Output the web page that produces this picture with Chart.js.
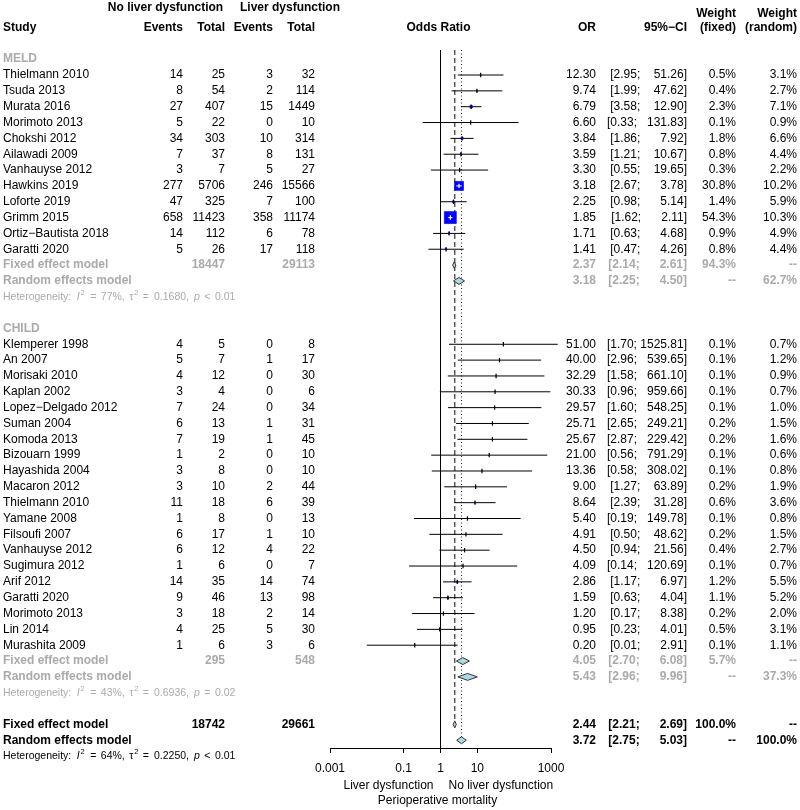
<!DOCTYPE html>
<html><head><meta charset="utf-8">
<script src="https://cdn.jsdelivr.net/npm/chart.js@4/dist/chart.umd.min.js"></script>
<style>html,body{margin:0;padding:0;background:#fff;}canvas{display:block;}</style>
</head><body>
<canvas id="c" width="800" height="810"></canvas>
<script>
// ---------------- DATA ----------------
const tickValues = [0.001, 0.1, 1, 10, 1000];
const tickLabels = ['0.001', '0.1', '1', '10', '1000'];

const meldStudies = ['Thielmann 2010','Tsuda 2013','Murata 2016','Morimoto 2013','Chokshi 2012','Ailawadi 2009','Vanhauyse 2012','Hawkins 2019','Loforte 2019','Grimm 2015','Ortiz\u2212Bautista 2018','Garatti 2020'];
const meldEventsNo = [14,8,27,5,34,7,3,277,47,658,14,5];
const meldTotalNo = [25,54,407,22,303,37,7,5706,325,11423,112,26];
const meldEventsLiver = [3,2,15,0,10,8,5,246,7,358,6,17];
const meldTotalLiver = [32,114,1449,10,314,131,27,15566,100,11174,78,118];
const meldOR = [12.30,9.74,6.79,6.60,3.84,3.59,3.30,3.18,2.25,1.85,1.71,1.41];
const meldLower = [2.95,1.99,3.58,0.33,1.86,1.21,0.55,2.67,0.98,1.62,0.63,0.47];
const meldUpper = [51.26,47.62,12.90,131.83,7.92,10.67,19.65,3.78,5.14,2.11,4.68,4.26];
const meldWeightFixed = [0.5,0.4,2.3,0.1,1.8,0.8,0.3,30.8,1.4,54.3,0.9,0.8];
const meldWeightRandom = [3.1,2.7,7.1,0.9,6.6,4.4,2.2,10.2,5.9,10.3,4.9,4.4];

const childStudies = ['Klemperer 1998','An 2007','Morisaki 2010','Kaplan 2002','Lopez\u2212Delgado 2012','Suman 2004','Komoda 2013','Bizouarn 1999','Hayashida 2004','Macaron 2012','Thielmann 2010','Yamane 2008','Filsoufi 2007','Vanhauyse 2012','Sugimura 2012','Arif 2012','Garatti 2020','Morimoto 2013','Lin 2014','Murashita 2009'];
const childEventsNo = [4,5,4,3,7,6,7,1,3,3,11,1,6,6,1,14,9,3,4,1];
const childTotalNo = [5,7,12,4,24,13,19,2,8,10,18,8,17,12,6,35,46,18,25,6];
const childEventsLiver = [0,1,0,0,0,1,1,0,0,2,6,0,1,4,0,14,13,2,5,3];
const childTotalLiver = [8,17,30,6,34,31,45,10,10,44,39,13,10,22,7,74,98,14,30,6];
const childOR = [51.00,40.00,32.29,30.33,29.57,25.71,25.67,21.00,13.36,9.00,8.64,5.40,4.91,4.50,4.09,2.86,1.59,1.20,0.95,0.20];
const childLower = [1.70,2.96,1.58,0.96,1.60,2.65,2.87,0.56,0.58,1.27,2.39,0.19,0.50,0.94,0.14,1.17,0.63,0.17,0.23,0.01];
const childUpper = [1525.81,539.65,661.10,959.66,548.25,249.21,229.42,791.29,308.02,63.89,31.28,149.78,48.62,21.56,120.69,6.97,4.04,8.38,4.01,2.91];
const childWeightFixed = [0.1,0.1,0.1,0.1,0.1,0.2,0.2,0.1,0.1,0.2,0.6,0.1,0.2,0.4,0.1,1.2,1.1,0.2,0.5,0.1];
const childWeightRandom = [0.7,1.2,0.9,0.7,1.0,1.5,1.6,0.6,0.8,1.9,3.6,0.8,1.5,2.7,0.7,5.5,5.2,2.0,3.1,1.1];

// summaries: [estimate, lower, upper]
const meldTotals = [18447, 29113];
const meldFixed = [2.37, 2.14, 2.61];
const meldRandom = [3.18, 2.25, 4.50];
const meldSummaryWeights = [94.3, 62.7];
const meldHet = ['77%', '0.1680', '<', '0.01'];

const childTotals = [295, 548];
const childFixed = [4.05, 2.70, 6.08];
const childRandom = [5.43, 2.96, 9.96];
const childSummaryWeights = [5.7, 37.3];
const childHet = ['43%', '0.6936', '=', '0.02'];

const overallTotals = [18742, 29661];
const overallFixed = [2.44, 2.21, 2.69];
const overallRandom = [3.72, 2.75, 5.03];
const overallSummaryWeights = [100.0, 100.0];
const overallHet = ['64%', '0.2250', '<', '0.01'];

// ---------------- LAYOUT ----------------
const FONT = '"Liberation Sans", Arial, Helvetica, sans-serif';
const GRAY = '#aaaaaa';
const Y_TOP = -0.58, Y_BOTTOM = 43.49;
const COL = {study: 3, ev1: 183, tot1: 225, ev2: 273, tot2: 315, or: 596, ci: 687, wf: 736, wr: 797};

function makeStudies(names, e1, t1, e2, t2, or, lo, hi, wf, wr, startRow) {
  return names.map((n, i) => ({name: n, e1: e1[i], t1: t1[i], e2: e2[i], t2: t2[i], or: or[i], lo: lo[i], hi: hi[i], wf: wf[i], wr: wr[i], row: startRow + i}));
}
const meldRows = makeStudies(meldStudies, meldEventsNo, meldTotalNo, meldEventsLiver, meldTotalLiver, meldOR, meldLower, meldUpper, meldWeightFixed, meldWeightRandom, 1);
const childRows = makeStudies(childStudies, childEventsNo, childTotalNo, childEventsLiver, childTotalLiver, childOR, childLower, childUpper, childWeightFixed, childWeightRandom, 18);
const allStudies = meldRows.concat(childRows);

const summaries = [
  {label: 'Fixed effect model', est: meldFixed, totals: meldTotals, wf: meldSummaryWeights[0], wr: null, row: 13, color: GRAY},
  {label: 'Random effects model', est: meldRandom, totals: null, wf: null, wr: meldSummaryWeights[1], row: 14, color: GRAY},
  {label: 'Fixed effect model', est: childFixed, totals: childTotals, wf: childSummaryWeights[0], wr: null, row: 38, color: GRAY},
  {label: 'Random effects model', est: childRandom, totals: null, wf: null, wr: childSummaryWeights[1], row: 39, color: GRAY},
  {label: 'Fixed effect model', est: overallFixed, totals: overallTotals, wf: overallSummaryWeights[0], wr: null, row: 42, color: '#000'},
  {label: 'Random effects model', est: overallRandom, totals: null, wf: null, wr: overallSummaryWeights[1], row: 43, color: '#000'}
];
const hetRows = [
  {vals: meldHet, row: 15, color: GRAY},
  {vals: childHet, row: 40, color: GRAY},
  {vals: overallHet, row: 44, color: '#000'}
];

function squareSide(w) { return 1.63 * Math.sqrt(w); }
function fmtCI(lo, hi) {
  const h = hi.toFixed(2);
  const pad = ' '.repeat(1 + Math.round(1.5 * Math.max(0, 7 - h.length)));
  return '[' + lo.toFixed(2) + ';' + pad + h + ']';
}
function diamond(e, row) {
  const h = 0.22;
  return [{x: e[1], y: row}, {x: e[0], y: row - h}, {x: e[2], y: row}, {x: e[0], y: row + h}, {x: e[1], y: row}];
}

// ---------------- DATASETS ----------------
const datasets = [];
const lineBase = {type: 'line', pointRadius: 0, borderWidth: 1, fill: false, clip: false, tension: 0};
datasets.push(Object.assign({}, lineBase, {data: [{x: 1, y: Y_TOP}, {x: 1, y: Y_BOTTOM}], borderColor: '#000', order: 30}));
datasets.push(Object.assign({}, lineBase, {data: [{x: overallFixed[0], y: Y_TOP}, {x: overallFixed[0], y: 42}], borderColor: '#444', borderDash: [5, 3], borderWidth: 1.3, order: 29}));
datasets.push(Object.assign({}, lineBase, {data: [{x: overallRandom[0], y: Y_TOP}, {x: overallRandom[0], y: 43}], borderColor: '#222', borderDash: [1, 2.5], order: 28}));
allStudies.forEach(s => {
  datasets.push(Object.assign({}, lineBase, {data: [{x: s.lo, y: s.row}, {x: s.hi, y: s.row}], borderColor: '#000', order: 20}));
});
datasets.push({type: 'scatter', data: allStudies.map(s => ({x: s.or, y: s.row})), pointStyle: 'rect', clip: false,
  pointRadius: ctx => squareSide(allStudies[ctx.dataIndex].wf) / Math.SQRT2,
  backgroundColor: '#0000ff', borderColor: '#0000cc', borderWidth: 0.6, order: 10});
datasets.push({type: 'scatter', data: allStudies.map(s => ({x: s.or, y: s.row})), pointStyle: 'line', clip: false,
  pointRadius: ctx => {
    const s = allStudies[ctx.dataIndex];
    const side = squareSide(s.wf);
    const xs = ctx.chart.scales.x;
    if (!xs || side <= 6) return 0;
    const half = (xs.getPixelForValue(s.hi) - xs.getPixelForValue(s.lo)) / 2;
    return Math.min(half, side / 2);
  },
  borderColor: '#ffffff', borderWidth: 1, order: 8});
datasets.push({type: 'scatter', data: allStudies.map(s => ({x: s.or, y: s.row})), pointStyle: 'line', rotation: 90, clip: false,
  pointRadius: 2.2,
  borderColor: ctx => squareSide(allStudies[ctx.dataIndex].wf) > 6 ? '#ffffff' : '#000000',
  borderWidth: 1.2, order: 6});
summaries.forEach(s => {
  datasets.push(Object.assign({}, lineBase, {data: diamond(s.est, s.row), fill: 'shape', backgroundColor: '#add8e6', borderColor: '#333', borderWidth: 1, order: 4}));
});

// ---------------- TEXT PLUGIN ----------------
function txt(ctx, s, x, y, align, o) {
  o = o || {};
  ctx.font = (o.italic ? 'italic ' : '') + (o.bold ? 'bold ' : '') + (o.size || 12) + 'px ' + FONT;
  ctx.fillStyle = o.color || '#000';
  ctx.textAlign = align;
  ctx.textBaseline = 'middle';
  ctx.fillText(s, x, y);
}
function drawHet(ctx, x, y, vals, color) {
  // [text, kind, gap before (px)]
  const segs = [
    ['Heterogeneity:', 'n', 0], ['I', 'i', 5.5], ['2', 's', 0.8], ['=', 'n', 5.5], [vals[0] + ',', 'n', 4.5],
    ['\u03c4', 'n', 4.5], ['2', 's', 0.8], ['=', 'n', 4.5], [vals[1] + ',', 'n', 5],
    ['p', 'i', 5], [vals[2], 'n', 4.5], [vals[3], 'n', 4.5]
  ];
  let cx = x;
  segs.forEach(([s, k, gap]) => {
    const size = k === 's' ? 7.5 : 10.5;
    ctx.font = (k === 'i' ? 'italic ' : '') + size + 'px ' + FONT;
    ctx.fillStyle = color; ctx.textAlign = 'left'; ctx.textBaseline = 'middle';
    cx += gap;
    ctx.fillText(s, cx, k === 's' ? y - 4 : y);
    cx += ctx.measureText(s).width;
  });
}
const textPlugin = {
  id: 'forestText',
  afterDraw(chart) {
    const ctx = chart.ctx;
    const ys = chart.scales.y, xs = chart.scales.x;
    const Y = r => ys.getPixelForValue(r);
    ctx.save();
    // header
    txt(ctx, 'No liver dysfunction', 165.5, Y(-3.28), 'center', {bold: true});
    txt(ctx, 'Liver dysfunction', 290, Y(-3.28), 'center', {bold: true});
    txt(ctx, 'Weight', COL.wf, Y(-2.9), 'right', {bold: true});
    txt(ctx, 'Weight', COL.wr, Y(-2.9), 'right', {bold: true});
    const h2 = Y(-2.02);
    txt(ctx, 'Study', COL.study, h2, 'left', {bold: true});
    txt(ctx, 'Events', COL.ev1, h2, 'right', {bold: true});
    txt(ctx, 'Total', COL.tot1, h2, 'right', {bold: true});
    txt(ctx, 'Events', COL.ev2, h2, 'right', {bold: true});
    txt(ctx, 'Total', COL.tot2, h2, 'right', {bold: true});
    txt(ctx, 'Odds Ratio', xs.getPixelForValue(1) - 2, h2, 'center', {bold: true});
    txt(ctx, 'OR', COL.or, h2, 'right', {bold: true});
    txt(ctx, '95%\u2212CI', COL.ci, h2, 'right', {bold: true});
    txt(ctx, '(fixed)', COL.wf, h2, 'right', {bold: true});
    txt(ctx, '(random)', COL.wr, h2, 'right', {bold: true});
    // subgroup headers
    txt(ctx, 'MELD', COL.study, Y(0), 'left', {bold: true, color: GRAY});
    txt(ctx, 'CHILD', COL.study, Y(17), 'left', {bold: true, color: GRAY});
    // studies
    allStudies.forEach(s => {
      const y = Y(s.row);
      txt(ctx, s.name, COL.study, y, 'left');
      txt(ctx, String(s.e1), COL.ev1, y, 'right');
      txt(ctx, String(s.t1), COL.tot1, y, 'right');
      txt(ctx, String(s.e2), COL.ev2, y, 'right');
      txt(ctx, String(s.t2), COL.tot2, y, 'right');
      txt(ctx, s.or.toFixed(2), COL.or, y, 'right');
      txt(ctx, fmtCI(s.lo, s.hi), COL.ci, y, 'right');
      txt(ctx, s.wf.toFixed(1) + '%', COL.wf, y, 'right');
      txt(ctx, s.wr.toFixed(1) + '%', COL.wr, y, 'right');
    });
    // summaries
    summaries.forEach(s => {
      const y = Y(s.row);
      const o = {bold: true, color: s.color};
      txt(ctx, s.label, COL.study, y, 'left', o);
      if (s.totals) {
        txt(ctx, String(s.totals[0]), COL.tot1, y, 'right', o);
        txt(ctx, String(s.totals[1]), COL.tot2, y, 'right', o);
      }
      txt(ctx, s.est[0].toFixed(2), COL.or, y, 'right', o);
      txt(ctx, fmtCI(s.est[1], s.est[2]), COL.ci, y, 'right', o);
      txt(ctx, s.wf != null ? s.wf.toFixed(1) + '%' : '--', COL.wf, y, 'right', o);
      txt(ctx, s.wr != null ? s.wr.toFixed(1) + '%' : '--', COL.wr, y, 'right', o);
    });
    hetRows.forEach(h => drawHet(ctx, COL.study, Y(h.row), h.vals, h.color));
    // axis labels
    const x1 = xs.getPixelForValue(1);
    const b = chart.chartArea.bottom;
    txt(ctx, 'Liver dysfunction', x1 - 7, b + 37.7, 'right');
    txt(ctx, 'No liver dysfunction', x1 + 8, b + 37.7, 'left');
    txt(ctx, 'Perioperative mortality', x1 - 3, b + 52.7, 'center');
    ctx.restore();
  }
};

Chart.defaults.font.family = FONT;
new Chart(document.getElementById('c'), {
  type: 'scatter',
  data: {datasets},
  options: {
    responsive: false,
    devicePixelRatio: 1,
    animation: false,
    events: [],
    layout: {padding: {left: 330, right: 249, top: 50, bottom: 0}},
    plugins: {legend: {display: false}, tooltip: {enabled: false}},
    scales: {
      x: {
        type: 'logarithmic', min: 0.001, max: 1000, position: 'bottom',
        afterBuildTicks: s => { s.ticks = tickValues.map(v => ({value: v})); },
        afterFit: s => { s.height = 62; },
        ticks: {autoSkip: false, maxRotation: 0, minRotation: 0, color: '#000', font: {family: FONT, size: 12}, padding: 8,
          callback: v => { const i = tickValues.indexOf(v); return i >= 0 ? tickLabels[i] : ''; }},
        grid: {drawOnChartArea: false, drawTicks: true, tickLength: 5, color: '#000', lineWidth: 1},
        border: {display: true, color: '#000', width: 1}
      },
      y: {type: 'linear', reverse: true, min: Y_TOP, max: Y_BOTTOM, display: false}
    }
  },
  plugins: [textPlugin]
});
</script>
</body></html>
